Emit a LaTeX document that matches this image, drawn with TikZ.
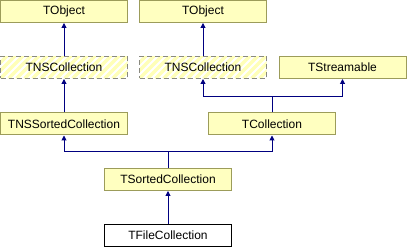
\documentclass[tikz,border=0pt]{standalone}
\usepackage{fontspec}
\setmainfont{Liberation Sans}
\usepackage{xcolor}
\usepackage{tikz}
\usetikzlibrary{positioning, arrows.meta}
\definecolor{classfill}{HTML}{FFFFC0}
\definecolor{classline}{HTML}{9C9C5A}
\definecolor{hatchyellow}{HTML}{FFFFB8}
\definecolor{hiddenline}{HTML}{8A8A80}
\definecolor{inhblue}{HTML}{000080}

\tikzset{
  classbox/.style={draw=classline, fill=classfill, line width=1pt, minimum width=127, minimum height=22,
    inner sep=0pt, font=\fontsize{12}{14}\selectfont},
  hiddenbox/.style={classbox, draw=hiddenline, dash pattern=on 5pt off 3pt, fill=white,
    path picture={
      \foreach \k in {-3,...,16}
        \draw[hatchyellow, line width=3.5pt, solid]
          ([xshift=\k*8pt]path picture bounding box.south west) -- ++(30pt,30pt);
    }},
  focusbox/.style={classbox, draw=black, fill=white},
  inh/.style={draw=inhblue, line width=1pt, -{Triangle[length=5pt, width=5pt]}},
}

\begin{document}
\begin{tikzpicture}[x=1pt, y=-1pt]
  \useasboundingbox (0,0) rectangle (407,248);
  % classes
  \node[classbox] (objA) at (64,11.5) {TObject};
  \node[classbox] (objB) at (203,11.5) {TObject};
  \node[hiddenbox] (nscA) at (64,67.5) {TNSCollection};
  \node[hiddenbox] (nscB) at (203,67.5) {TNSCollection};
  \node[classbox] (strm) at (342.5,67.5) {TStreamable};
  \node[classbox] (nssort) at (64,124) {TNSSortedCollection};
  \node[classbox] (coll) at (272,124) {TCollection};
  \node[classbox] (sorted) at (168,179.5) {TSortedCollection};
  \node[focusbox] (file) at (168,235.5) {TFileCollection};
  % junctions
  \coordinate (jcoll) at (272,97);
  \coordinate (jsort) at (168,152);
  % inheritance
  \draw[inh] (nscA) -- (objA);
  \draw[inh] (nscB) -- (objB);
  \draw[inh] (nssort) -- (nscA);
  \draw[inh] (coll.north) -- (jcoll) -| (nscB.south);
  \draw[inh] (jcoll) -| (strm.south);
  \draw[inh] (sorted.north) -- (jsort) -| (nssort.south);
  \draw[inh] (jsort) -| (coll.south);
  \draw[inh] (file) -- (sorted);
\end{tikzpicture}
\end{document}
